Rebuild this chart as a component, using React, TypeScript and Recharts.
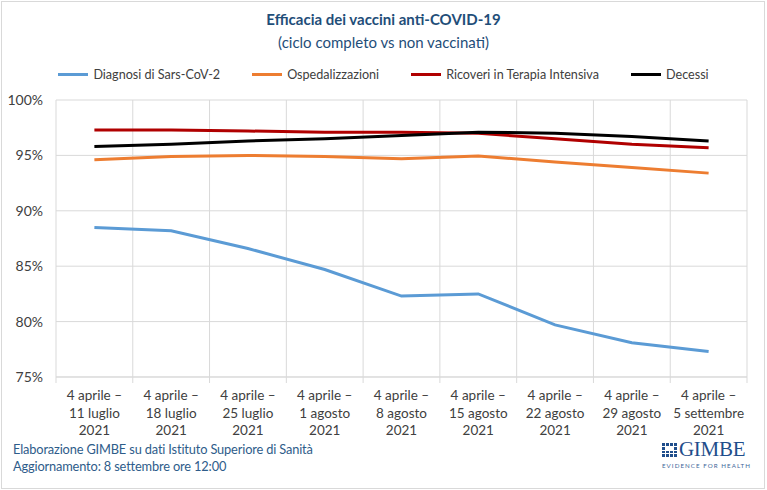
import { LineChart, Line, XAxis, YAxis, CartesianGrid } from "recharts";

const periods = [
  "11 luglio", "18 luglio", "25 luglio", "1 agosto", "8 agosto",
  "15 agosto", "22 agosto", "29 agosto", "5 settembre",
];
const diagnosi = [88.5, 88.2, 86.6, 84.7, 82.3, 82.5, 79.7, 78.1, 77.3];
const ospedalizzazioni = [94.6, 94.9, 95.0, 94.9, 94.7, 94.95, 94.4, 93.9, 93.4];
const terapiaIntensiva = [97.3, 97.3, 97.2, 97.1, 97.1, 97.0, 96.5, 96.0, 95.7];
const decessi = [95.8, 96.0, 96.3, 96.5, 96.8, 97.1, 97.0, 96.7, 96.3];
const yTicks = [75, 80, 85, 90, 95, 100];

const series = [
  { key: "diagnosi", name: "Diagnosi di Sars-CoV-2", color: "#5B9BD5" },
  { key: "osp", name: "Ospedalizzazioni", color: "#ED7D31" },
  { key: "ti", name: "Ricoveri in Terapia Intensiva", color: "#B00000" },
  { key: "decessi", name: "Decessi", color: "#000000" },
];

const data = periods.map((p, i) => ({
  period: p,
  diagnosi: diagnosi[i],
  osp: ospedalizzazioni[i],
  ti: terapiaIntensiva[i],
  decessi: decessi[i],
}));

const W = 767;
const H = 490;
const FONT = "Lato, 'Noto Sans', sans-serif";
const BLUE_TEXT = "#1F4E79";
const LOGO_BLUE = "#1F4E8C";
const GRID = "#D9D9D9";
const PLOT_LEFT = 56;
const PLOT_RIGHT = 20;
const BAND = (W - PLOT_LEFT - PLOT_RIGHT) / periods.length;

function PeriodTick(props: any) {
  const { x, y, payload } = props;
  const lines = ["4 aprile –", payload.value, "2021"];
  return (
    <g>
      <line x1={x + BAND / 2} x2={x + BAND / 2} y1={y - 8} y2={y - 2} stroke={GRID} />
      {payload.index === 0 && (
        <line x1={x - BAND / 2} x2={x - BAND / 2} y1={y - 8} y2={y - 2} stroke={GRID} />
      )}
      <text textAnchor="middle" fontFamily={FONT} fontSize={13.5} fill="#404040">
        {lines.map((l, i) => (
          <tspan key={i} x={x} y={y + 15 + i * 17.5}>{l}</tspan>
        ))}
      </text>
    </g>
  );
}

function LegendRow() {
  return (
    <div style={{ position: "absolute", top: 67, left: 0, width: W, display: "flex", justifyContent: "center", gap: 32, fontFamily: FONT, fontSize: 12.6, color: "#404040" }}>
      {series.map(s => (
        <div key={s.key} style={{ display: "flex", alignItems: "center", whiteSpace: "nowrap" }}>
          <span style={{ display: "inline-block", width: 30, height: 3, background: s.color, marginRight: 5 }} />
          {s.name}
        </div>
      ))}
    </div>
  );
}

// GIMBE mark: small square grid with a check, wordmark and tagline
function Logo() {
  return (
    <div style={{ position: "absolute", left: 662, top: 441, width: 100, color: LOGO_BLUE }}>
      <div style={{ display: "flex", alignItems: "flex-end", height: 17 }}>
        <div style={{ width: 15, height: 14, display: "grid", gridTemplateColumns: "repeat(4, 1fr)", gap: 1, marginRight: 2, marginBottom: 1 }}>
          {Array.from({ length: 16 }).map((_, i) => (
            <span key={i} style={{ background: i === 5 || i === 6 ? "#ffffff" : LOGO_BLUE }} />
          ))}
        </div>
        <span style={{ fontFamily: "'Liberation Serif', serif", fontSize: 21, lineHeight: "17px", letterSpacing: -0.3 }}>GIMBE</span>
      </div>
      <div style={{ fontFamily: FONT, fontSize: 6.2, letterSpacing: 1.05, marginTop: 4, color: "#3E6699", whiteSpace: "nowrap" }}>EVIDENCE FOR HEALTH</div>
    </div>
  );
}

export default function App() {
  return (
    <div style={{ position: "absolute", left: 0, top: 0, width: W, height: H, background: "#fff" }}>
      <div style={{ position: "absolute", left: 1, top: 1, width: W - 5, height: H - 4, border: `1px solid ${GRID}` }} />
      <div style={{ position: "absolute", top: 8, width: W, textAlign: "center", color: BLUE_TEXT, fontFamily: FONT }}>
        <div style={{ fontSize: 15, fontWeight: 700, lineHeight: "22px" }}>Efficacia dei vaccini anti-COVID-19</div>
        <div style={{ fontSize: 15, lineHeight: "24px" }}>(ciclo completo vs non vaccinati)</div>
      </div>
      <LegendRow />
      <div style={{ position: "absolute", left: 0, top: 0 }}>
        <LineChart width={W} height={H} data={data} margin={{ top: 100, right: PLOT_RIGHT, bottom: 53, left: 0 }}>
          <CartesianGrid
            stroke={GRID}
            verticalCoordinatesGenerator={({ offset }: any) =>
              periods.map((_, i) => offset.left + i * (offset.width / periods.length)).concat(offset.left + offset.width)
            }
          />
          <XAxis
            dataKey="period"
            axisLine={{ stroke: GRID }}
            tickLine={false}
            interval={0}
            height={60}
            padding={{ left: BAND / 2, right: BAND / 2 }}
            tick={<PeriodTick />}
          />
          <YAxis
            domain={[75, 100]}
            ticks={yTicks}
            width={PLOT_LEFT}
            axisLine={false}
            tickLine={false}
            tickMargin={7}
            tickFormatter={(v: number) => `${v}%`}
            tick={{ fontFamily: FONT, fontSize: 14, fill: "#404040" }}
          />
          {series.map(s => (
            <Line
              key={s.key}
              type="linear"
              dataKey={s.key}
              name={s.name}
              stroke={s.color}
              strokeWidth={3}
              dot={false}
              isAnimationActive={false}
            />
          ))}
        </LineChart>
      </div>
      <div style={{ position: "absolute", left: 13, top: 441, fontFamily: FONT, fontSize: 12.8, letterSpacing: -0.15, lineHeight: "16.5px", color: "#2E5C8A" }}>
        <div>Elaborazione GIMBE su dati Istituto Superiore di Sanità</div>
        <div>Aggiornamento: 8 settembre ore 12:00</div>
      </div>
      <Logo />
    </div>
  );
}
